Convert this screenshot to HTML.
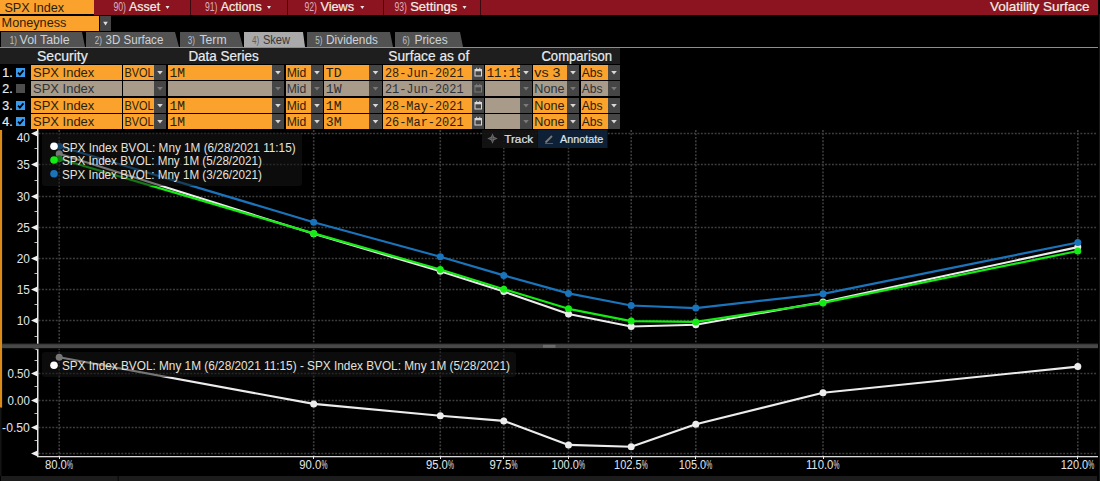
<!DOCTYPE html>
<html><head><meta charset="utf-8">
<style>
html,body{margin:0;padding:0;background:#000;width:1100px;height:481px;overflow:hidden;position:relative;font-family:"Liberation Sans",sans-serif;}
svg{position:absolute;left:0;top:0;}
text{font-family:"Liberation Sans",sans-serif;white-space:pre;}
.m{font-family:"Liberation Mono",monospace;}
</style></head><body>
<svg width="1100" height="481" viewBox="0 0 1100 481">
<rect x="0" y="0" width="94" height="14" fill="#fba22c" />
<text x="4.4" y="11.5" font-size="12.5" fill="#2a1e10" textLength="59.7" lengthAdjust="spacingAndGlyphs">SPX Index</text>
<rect x="94" y="0" width="1004" height="15" fill="#8b1420" />
<rect x="190" y="0" width="1" height="15" fill="#3a0a0e" />
<rect x="287" y="0" width="1" height="15" fill="#3a0a0e" />
<rect x="383" y="0" width="1" height="15" fill="#3a0a0e" />
<rect x="480" y="0" width="1" height="15" fill="#3a0a0e" />
<text x="113.4" y="10.5" font-size="12" fill="#dcb0bc" textLength="12.6" lengthAdjust="spacingAndGlyphs">90)</text>
<text x="129.1" y="10.7" font-size="12.8" fill="#f4efe6" textLength="31.0" lengthAdjust="spacingAndGlyphs" stroke="#f4efe6" stroke-width="0.2">Asset</text>
<polygon points="165.5,6 169.5,6 167.5,9" fill="#e6e6e6"/>
<text x="204.9" y="10.5" font-size="12" fill="#dcb0bc" textLength="12.5" lengthAdjust="spacingAndGlyphs">91)</text>
<text x="220.7" y="10.7" font-size="12.8" fill="#f4efe6" textLength="41.0" lengthAdjust="spacingAndGlyphs" stroke="#f4efe6" stroke-width="0.2">Actions</text>
<polygon points="267,6 271,6 269,9" fill="#e6e6e6"/>
<text x="304.4" y="10.5" font-size="12" fill="#dcb0bc" textLength="12.5" lengthAdjust="spacingAndGlyphs">92)</text>
<text x="320.4" y="10.7" font-size="12.8" fill="#f4efe6" textLength="33.7" lengthAdjust="spacingAndGlyphs" stroke="#f4efe6" stroke-width="0.2">Views</text>
<polygon points="360.3,6 364.3,6 362.3,9" fill="#e6e6e6"/>
<text x="394.4" y="10.5" font-size="12" fill="#dcb0bc" textLength="12.5" lengthAdjust="spacingAndGlyphs">93)</text>
<text x="410.2" y="10.7" font-size="12.8" fill="#f4efe6" textLength="47.0" lengthAdjust="spacingAndGlyphs" stroke="#f4efe6" stroke-width="0.2">Settings</text>
<polygon points="462.5,6 466.5,6 464.5,9" fill="#e6e6e6"/>
<text x="989.9" y="10.7" font-size="12.8" fill="#f4efe6" textLength="99.7" lengthAdjust="spacingAndGlyphs" stroke="#f4efe6" stroke-width="0.2">Volatility Surface</text>
<rect x="0" y="16" width="99" height="15" fill="#fba22c" />
<text x="1.6" y="27.3" font-size="12.5" fill="#2a1e10" textLength="64.8" lengthAdjust="spacingAndGlyphs">Moneyness</text>
<rect x="100" y="16" width="11" height="15" fill="#454545" />
<polygon points="103.2,21.8 107.8,21.8 105.5,25.6" fill="#dddddd"/>
<polygon points="1,32 82,32 85,47 1,47" fill="#525252"/>
<polygon points="86,32 175,32 179,47 86,47" fill="#525252"/>
<polygon points="180,32 239,32 243,47 180,47" fill="#525252"/>
<polygon points="244,32 303,32 305,47 244,47" fill="#aaaaaa"/>
<polygon points="307,32 390,32 393,47 307,47" fill="#525252"/>
<polygon points="395,32 460,32 463,47 395,47" fill="#525252"/>
<rect x="0" y="47" width="1098" height="1" fill="#8e8e8e"/>
<text x="9.8" y="43.8" font-size="11.5" fill="#b8c0c8" textLength="7.2" lengthAdjust="spacingAndGlyphs">1)</text>
<text x="19.6" y="43.8" font-size="12" fill="#cdd2d8" textLength="50.0" lengthAdjust="spacingAndGlyphs">Vol Table</text>
<text x="94.7" y="43.8" font-size="11.5" fill="#b8c0c8" textLength="7.2" lengthAdjust="spacingAndGlyphs">2)</text>
<text x="105.6" y="43.8" font-size="12" fill="#cdd2d8" textLength="57.7" lengthAdjust="spacingAndGlyphs">3D Surface</text>
<text x="187.8" y="43.8" font-size="11.5" fill="#b8c0c8" textLength="7.2" lengthAdjust="spacingAndGlyphs">3)</text>
<text x="199.4" y="43.8" font-size="12" fill="#cdd2d8" textLength="27.2" lengthAdjust="spacingAndGlyphs">Term</text>
<text x="252.0" y="43.8" font-size="11.5" fill="#606060" textLength="7.2" lengthAdjust="spacingAndGlyphs">4)</text>
<text x="262.9" y="43.8" font-size="12" fill="#383838" textLength="27.1" lengthAdjust="spacingAndGlyphs">Skew</text>
<text x="315.2" y="43.8" font-size="11.5" fill="#b8c0c8" textLength="7.2" lengthAdjust="spacingAndGlyphs">5)</text>
<text x="326.1" y="43.8" font-size="12" fill="#cdd2d8" textLength="51.8" lengthAdjust="spacingAndGlyphs">Dividends</text>
<text x="402.6" y="43.8" font-size="11.5" fill="#b8c0c8" textLength="7.2" lengthAdjust="spacingAndGlyphs">6)</text>
<text x="414.4" y="43.8" font-size="12" fill="#cdd2d8" textLength="33.3" lengthAdjust="spacingAndGlyphs">Prices</text>
<rect x="0" y="48" width="620" height="16" fill="#1e1e1e" />
<text x="37.0" y="60.8" font-size="14.5" fill="#e8ecf0" textLength="50.7" lengthAdjust="spacingAndGlyphs" stroke="#e8ecf0" stroke-width="0.2">Security</text>
<text x="188.4" y="60.8" font-size="14.5" fill="#e8ecf0" textLength="70.4" lengthAdjust="spacingAndGlyphs" stroke="#e8ecf0" stroke-width="0.2">Data Series</text>
<text x="388.3" y="60.8" font-size="14.5" fill="#e8ecf0" textLength="80.9" lengthAdjust="spacingAndGlyphs" stroke="#e8ecf0" stroke-width="0.2">Surface as of</text>
<text x="541.4" y="60.8" font-size="14.5" fill="#e8ecf0" textLength="70.6" lengthAdjust="spacingAndGlyphs" stroke="#e8ecf0" stroke-width="0.2">Comparison</text>
<defs><clipPath id="ctm"><rect x="485" y="60" width="35" height="80"/></clipPath></defs>
<text x="2.3" y="77.1" font-size="13" fill="#e8ecf0" textLength="10.4" lengthAdjust="spacingAndGlyphs" stroke="#e8ecf0" stroke-width="0.2">1.</text>
<rect x="16" y="68" width="9" height="9" fill="#3a9aee" />
<path d="M18 72.6 L19.9 74.6 L23.4 70.4" stroke="#000" stroke-width="1.7" fill="none"/>
<rect x="31" y="65" width="91" height="15" fill="#fba22c" />
<text x="33.0" y="77.1" font-size="13" fill="#2a1e10" textLength="61.3" lengthAdjust="spacingAndGlyphs">SPX Index</text>
<rect x="123" y="65" width="31" height="15" fill="#fba22c" />
<text x="124.4" y="77.1" font-size="13" fill="#2a1e10" textLength="29.2" lengthAdjust="spacingAndGlyphs">BVOL</text>
<rect x="154" y="65" width="12" height="15" fill="#454545" />
<polygon points="157.2,71 162.8,71 160.0,74.6" fill="#d8d8d8"/>
<rect x="168" y="65" width="104" height="15" fill="#fba22c" />
<text x="169.4" y="77.1" font-size="13.5" fill="#2a1e10" textLength="15.5" lengthAdjust="spacingAndGlyphs" class="m">1M</text>
<rect x="272" y="65" width="12" height="15" fill="#454545" />
<polygon points="275.2,71 280.8,71 278.0,74.6" fill="#d8d8d8"/>
<rect x="286" y="65" width="25" height="15" fill="#fba22c" />
<text x="286.7" y="77.1" font-size="12.5" fill="#2a1e10" textLength="19.6" lengthAdjust="spacingAndGlyphs">Mid</text>
<rect x="311" y="65" width="12" height="15" fill="#454545" />
<polygon points="314.2,71 319.8,71 317.0,74.6" fill="#d8d8d8"/>
<rect x="324" y="65" width="45" height="15" fill="#fba22c" />
<text x="325.8" y="77.1" font-size="13.5" fill="#2a1e10" textLength="15.8" lengthAdjust="spacingAndGlyphs" class="m">TD</text>
<rect x="369" y="65" width="13" height="15" fill="#454545" />
<polygon points="372.7,71 378.3,71 375.5,74.6" fill="#d8d8d8"/>
<rect x="383" y="65" width="89" height="15" fill="#fba22c" />
<text x="384.9" y="77.1" font-size="13.5" fill="#2a1e10" textLength="78.7" lengthAdjust="spacingAndGlyphs" class="m">28-Jun-2021</text>
<rect x="472" y="65" width="12" height="15" fill="#454545" />
<rect x="475" y="69.5" width="6.5" height="6.5" fill="none" stroke="#d8d8d8" stroke-width="1"/><rect x="475" y="70" width="6.5" height="1.3" fill="#d8d8d8"/><rect x="476.2" y="67.8" width="1" height="2" fill="#d8d8d8"/><rect x="479.3" y="67.8" width="1" height="2" fill="#d8d8d8"/>
<rect x="485" y="65" width="35" height="15" fill="#fba22c" />
<g clip-path="url(#ctm)">
<text x="486.7" y="77.1" font-size="13.5" fill="#2a1e10" textLength="36.7" lengthAdjust="spacingAndGlyphs" class="m">11:15</text>
</g>
<rect x="520" y="65" width="12" height="15" fill="#454545" />
<polygon points="523.2,71 528.8,71 526.0,74.6" fill="#d8d8d8"/>
<rect x="533" y="65" width="34" height="15" fill="#fba22c" />
<text x="534.3" y="77.1" font-size="13" fill="#2a1e10" textLength="26.1" lengthAdjust="spacingAndGlyphs">vs 3</text>
<rect x="567" y="65" width="12" height="15" fill="#454545" />
<polygon points="570.2,71 575.8,71 573.0,74.6" fill="#d8d8d8"/>
<rect x="581" y="65" width="27" height="15" fill="#fba22c" />
<text x="581.7" y="77.1" font-size="12.5" fill="#2a1e10" textLength="20.8" lengthAdjust="spacingAndGlyphs">Abs</text>
<rect x="608" y="65" width="12" height="15" fill="#454545" />
<polygon points="611.2,71 616.8,71 614.0,74.6" fill="#d8d8d8"/>
<text x="2.3" y="93.1" font-size="13" fill="#e8ecf0" textLength="10.4" lengthAdjust="spacingAndGlyphs" stroke="#e8ecf0" stroke-width="0.2">2.</text>
<rect x="16" y="84" width="9" height="9" fill="#4d4d4d" />
<rect x="31" y="81" width="91" height="15" fill="#a89b89" />
<text x="33.0" y="93.1" font-size="13" fill="#30323a" textLength="61.3" lengthAdjust="spacingAndGlyphs">SPX Index</text>
<rect x="123" y="81" width="31" height="15" fill="#a89b89" />
<rect x="154" y="81" width="12" height="15" fill="#454545" />
<polygon points="157.2,87 162.8,87 160.0,90.6" fill="#7a7a7a"/>
<rect x="168" y="81" width="104" height="15" fill="#a89b89" />
<rect x="272" y="81" width="12" height="15" fill="#454545" />
<polygon points="275.2,87 280.8,87 278.0,90.6" fill="#7a7a7a"/>
<rect x="286" y="81" width="25" height="15" fill="#a89b89" />
<text x="286.7" y="93.1" font-size="12.5" fill="#30323a" textLength="19.6" lengthAdjust="spacingAndGlyphs">Mid</text>
<rect x="311" y="81" width="12" height="15" fill="#454545" />
<polygon points="314.2,87 319.8,87 317.0,90.6" fill="#7a7a7a"/>
<rect x="324" y="81" width="45" height="15" fill="#a89b89" />
<text x="325.8" y="93.1" font-size="13.5" fill="#30323a" textLength="15.8" lengthAdjust="spacingAndGlyphs" class="m">1W</text>
<rect x="369" y="81" width="13" height="15" fill="#454545" />
<polygon points="372.7,87 378.3,87 375.5,90.6" fill="#7a7a7a"/>
<rect x="383" y="81" width="89" height="15" fill="#a89b89" />
<text x="384.9" y="93.1" font-size="13.5" fill="#30323a" textLength="78.7" lengthAdjust="spacingAndGlyphs" class="m">21-Jun-2021</text>
<rect x="472" y="81" width="12" height="15" fill="#454545" />
<rect x="475" y="85.5" width="6.5" height="6.5" fill="none" stroke="#7a7a7a" stroke-width="1"/><rect x="475" y="86" width="6.5" height="1.3" fill="#7a7a7a"/><rect x="476.2" y="83.8" width="1" height="2" fill="#7a7a7a"/><rect x="479.3" y="83.8" width="1" height="2" fill="#7a7a7a"/>
<rect x="485" y="81" width="35" height="15" fill="#a89b89" />
<rect x="520" y="81" width="12" height="15" fill="#454545" />
<polygon points="523.2,87 528.8,87 526.0,90.6" fill="#7a7a7a"/>
<rect x="533" y="81" width="34" height="15" fill="#a89b89" />
<text x="534.3" y="93.1" font-size="12.5" fill="#30323a" textLength="30.1" lengthAdjust="spacingAndGlyphs">None</text>
<rect x="567" y="81" width="12" height="15" fill="#454545" />
<polygon points="570.2,87 575.8,87 573.0,90.6" fill="#7a7a7a"/>
<rect x="581" y="81" width="27" height="15" fill="#a89b89" />
<text x="581.7" y="93.1" font-size="12.5" fill="#30323a" textLength="20.8" lengthAdjust="spacingAndGlyphs">Abs</text>
<rect x="608" y="81" width="12" height="15" fill="#454545" />
<polygon points="611.2,87 616.8,87 614.0,90.6" fill="#7a7a7a"/>
<text x="2.3" y="110.1" font-size="13" fill="#e8ecf0" textLength="10.4" lengthAdjust="spacingAndGlyphs" stroke="#e8ecf0" stroke-width="0.2">3.</text>
<rect x="16" y="101" width="9" height="9" fill="#3a9aee" />
<path d="M18 105.6 L19.9 107.6 L23.4 103.4" stroke="#000" stroke-width="1.7" fill="none"/>
<rect x="31" y="98" width="91" height="15" fill="#fba22c" />
<text x="33.0" y="110.1" font-size="13" fill="#2a1e10" textLength="61.3" lengthAdjust="spacingAndGlyphs">SPX Index</text>
<rect x="123" y="98" width="31" height="15" fill="#fba22c" />
<text x="124.4" y="110.1" font-size="13" fill="#2a1e10" textLength="29.2" lengthAdjust="spacingAndGlyphs">BVOL</text>
<rect x="154" y="98" width="12" height="15" fill="#454545" />
<polygon points="157.2,104 162.8,104 160.0,107.6" fill="#d8d8d8"/>
<rect x="168" y="98" width="104" height="15" fill="#fba22c" />
<text x="169.4" y="110.1" font-size="13.5" fill="#2a1e10" textLength="15.5" lengthAdjust="spacingAndGlyphs" class="m">1M</text>
<rect x="272" y="98" width="12" height="15" fill="#454545" />
<polygon points="275.2,104 280.8,104 278.0,107.6" fill="#d8d8d8"/>
<rect x="286" y="98" width="25" height="15" fill="#fba22c" />
<text x="286.7" y="110.1" font-size="12.5" fill="#2a1e10" textLength="19.6" lengthAdjust="spacingAndGlyphs">Mid</text>
<rect x="311" y="98" width="12" height="15" fill="#454545" />
<polygon points="314.2,104 319.8,104 317.0,107.6" fill="#d8d8d8"/>
<rect x="324" y="98" width="45" height="15" fill="#fba22c" />
<text x="325.8" y="110.1" font-size="13.5" fill="#2a1e10" textLength="15.8" lengthAdjust="spacingAndGlyphs" class="m">1M</text>
<rect x="369" y="98" width="13" height="15" fill="#454545" />
<polygon points="372.7,104 378.3,104 375.5,107.6" fill="#d8d8d8"/>
<rect x="383" y="98" width="89" height="15" fill="#fba22c" />
<text x="384.9" y="110.1" font-size="13.5" fill="#2a1e10" textLength="78.7" lengthAdjust="spacingAndGlyphs" class="m">28-May-2021</text>
<rect x="472" y="98" width="12" height="15" fill="#454545" />
<rect x="475" y="102.5" width="6.5" height="6.5" fill="none" stroke="#d8d8d8" stroke-width="1"/><rect x="475" y="103" width="6.5" height="1.3" fill="#d8d8d8"/><rect x="476.2" y="100.8" width="1" height="2" fill="#d8d8d8"/><rect x="479.3" y="100.8" width="1" height="2" fill="#d8d8d8"/>
<rect x="485" y="98" width="35" height="15" fill="#a89b89" />
<rect x="520" y="98" width="12" height="15" fill="#454545" />
<polygon points="523.2,104 528.8,104 526.0,107.6" fill="#7a7a7a"/>
<rect x="533" y="98" width="34" height="15" fill="#fba22c" />
<text x="534.3" y="110.1" font-size="12.5" fill="#2a1e10" textLength="30.1" lengthAdjust="spacingAndGlyphs">None</text>
<rect x="567" y="98" width="12" height="15" fill="#454545" />
<polygon points="570.2,104 575.8,104 573.0,107.6" fill="#d8d8d8"/>
<rect x="581" y="98" width="27" height="15" fill="#fba22c" />
<text x="581.7" y="110.1" font-size="12.5" fill="#2a1e10" textLength="20.8" lengthAdjust="spacingAndGlyphs">Abs</text>
<rect x="608" y="98" width="12" height="15" fill="#454545" />
<polygon points="611.2,104 616.8,104 614.0,107.6" fill="#d8d8d8"/>
<text x="2.3" y="126.1" font-size="13" fill="#e8ecf0" textLength="10.4" lengthAdjust="spacingAndGlyphs" stroke="#e8ecf0" stroke-width="0.2">4.</text>
<rect x="16" y="117" width="9" height="9" fill="#3a9aee" />
<path d="M18 121.6 L19.9 123.6 L23.4 119.4" stroke="#000" stroke-width="1.7" fill="none"/>
<rect x="31" y="114" width="91" height="15" fill="#fba22c" />
<text x="33.0" y="126.1" font-size="13" fill="#2a1e10" textLength="61.3" lengthAdjust="spacingAndGlyphs">SPX Index</text>
<rect x="123" y="114" width="31" height="15" fill="#fba22c" />
<text x="124.4" y="126.1" font-size="13" fill="#2a1e10" textLength="29.2" lengthAdjust="spacingAndGlyphs">BVOL</text>
<rect x="154" y="114" width="12" height="15" fill="#454545" />
<polygon points="157.2,120 162.8,120 160.0,123.6" fill="#d8d8d8"/>
<rect x="168" y="114" width="104" height="15" fill="#fba22c" />
<text x="169.4" y="126.1" font-size="13.5" fill="#2a1e10" textLength="15.5" lengthAdjust="spacingAndGlyphs" class="m">1M</text>
<rect x="272" y="114" width="12" height="15" fill="#454545" />
<polygon points="275.2,120 280.8,120 278.0,123.6" fill="#d8d8d8"/>
<rect x="286" y="114" width="25" height="15" fill="#fba22c" />
<text x="286.7" y="126.1" font-size="12.5" fill="#2a1e10" textLength="19.6" lengthAdjust="spacingAndGlyphs">Mid</text>
<rect x="311" y="114" width="12" height="15" fill="#454545" />
<polygon points="314.2,120 319.8,120 317.0,123.6" fill="#d8d8d8"/>
<rect x="324" y="114" width="45" height="15" fill="#fba22c" />
<text x="325.8" y="126.1" font-size="13.5" fill="#2a1e10" textLength="15.8" lengthAdjust="spacingAndGlyphs" class="m">3M</text>
<rect x="369" y="114" width="13" height="15" fill="#454545" />
<polygon points="372.7,120 378.3,120 375.5,123.6" fill="#d8d8d8"/>
<rect x="383" y="114" width="89" height="15" fill="#fba22c" />
<text x="384.9" y="126.1" font-size="13.5" fill="#2a1e10" textLength="78.7" lengthAdjust="spacingAndGlyphs" class="m">26-Mar-2021</text>
<rect x="472" y="114" width="12" height="15" fill="#454545" />
<rect x="475" y="118.5" width="6.5" height="6.5" fill="none" stroke="#d8d8d8" stroke-width="1"/><rect x="475" y="119" width="6.5" height="1.3" fill="#d8d8d8"/><rect x="476.2" y="116.8" width="1" height="2" fill="#d8d8d8"/><rect x="479.3" y="116.8" width="1" height="2" fill="#d8d8d8"/>
<rect x="485" y="114" width="35" height="15" fill="#a89b89" />
<rect x="520" y="114" width="12" height="15" fill="#454545" />
<polygon points="523.2,120 528.8,120 526.0,123.6" fill="#7a7a7a"/>
<rect x="533" y="114" width="34" height="15" fill="#fba22c" />
<text x="534.3" y="126.1" font-size="12.5" fill="#2a1e10" textLength="30.1" lengthAdjust="spacingAndGlyphs">None</text>
<rect x="567" y="114" width="12" height="15" fill="#454545" />
<polygon points="570.2,120 575.8,120 573.0,123.6" fill="#d8d8d8"/>
<rect x="581" y="114" width="27" height="15" fill="#fba22c" />
<text x="581.7" y="126.1" font-size="12.5" fill="#2a1e10" textLength="20.8" lengthAdjust="spacingAndGlyphs">Abs</text>
<rect x="608" y="114" width="12" height="15" fill="#454545" />
<polygon points="611.2,120 616.8,120 614.0,123.6" fill="#d8d8d8"/>
<rect x="0" y="130" width="2.1" height="277.7" fill="#d98c1a" />
<rect x="0" y="407.7" width="1.5" height="68.5" fill="#141414" />
<line x1="38.5" y1="133.5" x2="1097" y2="133.5" stroke="#3e3e3e" stroke-width="1.6" stroke-dasharray="1.9 1.55"/>
<line x1="38.5" y1="164.5" x2="1097" y2="164.5" stroke="#3e3e3e" stroke-width="1.6" stroke-dasharray="1.9 1.55"/>
<line x1="38.5" y1="196.5" x2="1097" y2="196.5" stroke="#3e3e3e" stroke-width="1.6" stroke-dasharray="1.9 1.55"/>
<line x1="38.5" y1="227.5" x2="1097" y2="227.5" stroke="#3e3e3e" stroke-width="1.6" stroke-dasharray="1.9 1.55"/>
<line x1="38.5" y1="258.5" x2="1097" y2="258.5" stroke="#3e3e3e" stroke-width="1.6" stroke-dasharray="1.9 1.55"/>
<line x1="38.5" y1="289.5" x2="1097" y2="289.5" stroke="#3e3e3e" stroke-width="1.6" stroke-dasharray="1.9 1.55"/>
<line x1="38.5" y1="320.5" x2="1097" y2="320.5" stroke="#3e3e3e" stroke-width="1.6" stroke-dasharray="1.9 1.55"/>
<line x1="59.2" y1="130" x2="59.2" y2="344" stroke="#3e3e3e" stroke-width="1.6" stroke-dasharray="1.9 1.55"/>
<line x1="59.2" y1="348" x2="59.2" y2="456" stroke="#3e3e3e" stroke-width="1.6" stroke-dasharray="1.9 1.55"/>
<line x1="313.7" y1="130" x2="313.7" y2="344" stroke="#3e3e3e" stroke-width="1.6" stroke-dasharray="1.9 1.55"/>
<line x1="313.7" y1="348" x2="313.7" y2="456" stroke="#3e3e3e" stroke-width="1.6" stroke-dasharray="1.9 1.55"/>
<line x1="440.3" y1="130" x2="440.3" y2="344" stroke="#3e3e3e" stroke-width="1.6" stroke-dasharray="1.9 1.55"/>
<line x1="440.3" y1="348" x2="440.3" y2="456" stroke="#3e3e3e" stroke-width="1.6" stroke-dasharray="1.9 1.55"/>
<line x1="503.8" y1="130" x2="503.8" y2="344" stroke="#3e3e3e" stroke-width="1.6" stroke-dasharray="1.9 1.55"/>
<line x1="503.8" y1="348" x2="503.8" y2="456" stroke="#3e3e3e" stroke-width="1.6" stroke-dasharray="1.9 1.55"/>
<line x1="568.5" y1="130" x2="568.5" y2="344" stroke="#3e3e3e" stroke-width="1.6" stroke-dasharray="1.9 1.55"/>
<line x1="568.5" y1="348" x2="568.5" y2="456" stroke="#3e3e3e" stroke-width="1.6" stroke-dasharray="1.9 1.55"/>
<line x1="631.2" y1="130" x2="631.2" y2="344" stroke="#3e3e3e" stroke-width="1.6" stroke-dasharray="1.9 1.55"/>
<line x1="631.2" y1="348" x2="631.2" y2="456" stroke="#3e3e3e" stroke-width="1.6" stroke-dasharray="1.9 1.55"/>
<line x1="695.8" y1="130" x2="695.8" y2="344" stroke="#3e3e3e" stroke-width="1.6" stroke-dasharray="1.9 1.55"/>
<line x1="695.8" y1="348" x2="695.8" y2="456" stroke="#3e3e3e" stroke-width="1.6" stroke-dasharray="1.9 1.55"/>
<line x1="823.0" y1="130" x2="823.0" y2="344" stroke="#3e3e3e" stroke-width="1.6" stroke-dasharray="1.9 1.55"/>
<line x1="823.0" y1="348" x2="823.0" y2="456" stroke="#3e3e3e" stroke-width="1.6" stroke-dasharray="1.9 1.55"/>
<line x1="1077.8" y1="130" x2="1077.8" y2="344" stroke="#3e3e3e" stroke-width="1.6" stroke-dasharray="1.9 1.55"/>
<line x1="1077.8" y1="348" x2="1077.8" y2="456" stroke="#3e3e3e" stroke-width="1.6" stroke-dasharray="1.9 1.55"/>
<line x1="38.5" y1="373.5" x2="1097" y2="373.5" stroke="#3e3e3e" stroke-width="1.6" stroke-dasharray="1.9 1.55"/>
<line x1="38.5" y1="400.5" x2="1097" y2="400.5" stroke="#3e3e3e" stroke-width="1.6" stroke-dasharray="1.9 1.55"/>
<line x1="38.5" y1="427.5" x2="1097" y2="427.5" stroke="#3e3e3e" stroke-width="1.6" stroke-dasharray="1.9 1.55"/>
<line x1="38.5" y1="453.5" x2="1097" y2="453.5" stroke="#3e3e3e" stroke-width="1.6" stroke-dasharray="1.9 1.55"/>
<rect x="37" y="129" width="1.5" height="215" fill="#e6e6e6" />
<rect x="37" y="348" width="1.5" height="109" fill="#e6e6e6" />
<rect x="37" y="456" width="1061" height="1.3" fill="#d8d8d8" />
<polygon points="31,133.5 37.5,130.5 37.5,136.5" fill="#f0f0f0"/>
<text x="16.7" y="141.8" font-size="12.3" fill="#e0e4ea" textLength="13.2" lengthAdjust="spacingAndGlyphs">40</text>
<polygon points="31,164.5 37.5,161.5 37.5,167.5" fill="#f0f0f0"/>
<text x="16.7" y="169.4" font-size="12.3" fill="#e0e4ea" textLength="13.2" lengthAdjust="spacingAndGlyphs">35</text>
<polygon points="31,196.5 37.5,193.5 37.5,199.5" fill="#f0f0f0"/>
<text x="16.7" y="201.4" font-size="12.3" fill="#e0e4ea" textLength="13.2" lengthAdjust="spacingAndGlyphs">30</text>
<polygon points="31,227.5 37.5,224.5 37.5,230.5" fill="#f0f0f0"/>
<text x="16.7" y="232.4" font-size="12.3" fill="#e0e4ea" textLength="13.2" lengthAdjust="spacingAndGlyphs">25</text>
<polygon points="31,258.5 37.5,255.5 37.5,261.5" fill="#f0f0f0"/>
<text x="16.7" y="263.4" font-size="12.3" fill="#e0e4ea" textLength="13.2" lengthAdjust="spacingAndGlyphs">20</text>
<polygon points="31,289.5 37.5,286.5 37.5,292.5" fill="#f0f0f0"/>
<text x="16.7" y="294.4" font-size="12.3" fill="#e0e4ea" textLength="13.2" lengthAdjust="spacingAndGlyphs">15</text>
<polygon points="31,320.5 37.5,317.5 37.5,323.5" fill="#f0f0f0"/>
<text x="16.7" y="325.4" font-size="12.3" fill="#e0e4ea" textLength="13.2" lengthAdjust="spacingAndGlyphs">10</text>
<rect x="34.5" y="148" width="2.5" height="1" fill="#bdbdbd" />
<rect x="34.5" y="180" width="2.5" height="1" fill="#bdbdbd" />
<rect x="34.5" y="211" width="2.5" height="1" fill="#bdbdbd" />
<rect x="34.5" y="242" width="2.5" height="1" fill="#bdbdbd" />
<rect x="34.5" y="273" width="2.5" height="1" fill="#bdbdbd" />
<rect x="34.5" y="304" width="2.5" height="1" fill="#bdbdbd" />
<rect x="34.5" y="336" width="2.5" height="1" fill="#bdbdbd" />
<polygon points="31,347.5 37.5,344.5 37.5,350.5" fill="#f0f0f0"/>
<polygon points="31,373.5 37.5,370.5 37.5,376.5" fill="#f0f0f0"/>
<text x="7.5" y="378.4" font-size="12.3" fill="#e0e4ea" textLength="22.4" lengthAdjust="spacingAndGlyphs">0.50</text>
<polygon points="31,400.5 37.5,397.5 37.5,403.5" fill="#f0f0f0"/>
<text x="7.5" y="405.4" font-size="12.3" fill="#e0e4ea" textLength="22.4" lengthAdjust="spacingAndGlyphs">0.00</text>
<polygon points="31,427.5 37.5,424.5 37.5,430.5" fill="#f0f0f0"/>
<text x="2.1" y="432.4" font-size="12.3" fill="#e0e4ea" textLength="27.8" lengthAdjust="spacingAndGlyphs">-0.50</text>
<polygon points="31,453.5 37.5,450.5 37.5,456.5" fill="#f0f0f0"/>
<rect x="34.5" y="360" width="2.5" height="1" fill="#bdbdbd" />
<rect x="34.5" y="386" width="2.5" height="1" fill="#bdbdbd" />
<rect x="34.5" y="413" width="2.5" height="1" fill="#bdbdbd" />
<rect x="34.5" y="440" width="2.5" height="1" fill="#bdbdbd" />
<rect x="59" y="456" width="1" height="3" fill="#e6e6e6" />
<text x="44.9" y="468.9" font-size="12.3" fill="#e0e4ea" textLength="22.0" lengthAdjust="spacingAndGlyphs">80.0</text>
<text x="67.0" y="469.2" font-size="13" fill="#e0e4ea" textLength="6" lengthAdjust="spacingAndGlyphs">%</text>
<rect x="313" y="456" width="1" height="3" fill="#e6e6e6" />
<text x="299.3" y="468.9" font-size="12.3" fill="#e0e4ea" textLength="22.0" lengthAdjust="spacingAndGlyphs">90.0</text>
<text x="321.4" y="469.2" font-size="13" fill="#e0e4ea" textLength="6" lengthAdjust="spacingAndGlyphs">%</text>
<rect x="440" y="456" width="1" height="3" fill="#e6e6e6" />
<text x="425.9" y="468.9" font-size="12.3" fill="#e0e4ea" textLength="22.0" lengthAdjust="spacingAndGlyphs">95.0</text>
<text x="448.1" y="469.2" font-size="13" fill="#e0e4ea" textLength="6" lengthAdjust="spacingAndGlyphs">%</text>
<rect x="503" y="456" width="1" height="3" fill="#e6e6e6" />
<text x="489.4" y="468.9" font-size="12.3" fill="#e0e4ea" textLength="22.0" lengthAdjust="spacingAndGlyphs">97.5</text>
<text x="511.6" y="469.2" font-size="13" fill="#e0e4ea" textLength="6" lengthAdjust="spacingAndGlyphs">%</text>
<rect x="568" y="456" width="1" height="3" fill="#e6e6e6" />
<text x="551.4" y="468.9" font-size="12.3" fill="#e0e4ea" textLength="27.5" lengthAdjust="spacingAndGlyphs">100.0</text>
<text x="579.0" y="469.2" font-size="13" fill="#e0e4ea" textLength="6" lengthAdjust="spacingAndGlyphs">%</text>
<rect x="631" y="456" width="1" height="3" fill="#e6e6e6" />
<text x="614.1" y="468.9" font-size="12.3" fill="#e0e4ea" textLength="27.5" lengthAdjust="spacingAndGlyphs">102.5</text>
<text x="641.7" y="469.2" font-size="13" fill="#e0e4ea" textLength="6" lengthAdjust="spacingAndGlyphs">%</text>
<rect x="695" y="456" width="1" height="3" fill="#e6e6e6" />
<text x="678.7" y="468.9" font-size="12.3" fill="#e0e4ea" textLength="27.5" lengthAdjust="spacingAndGlyphs">105.0</text>
<text x="706.3" y="469.2" font-size="13" fill="#e0e4ea" textLength="6" lengthAdjust="spacingAndGlyphs">%</text>
<rect x="823" y="456" width="1" height="3" fill="#e6e6e6" />
<text x="805.9" y="468.9" font-size="12.3" fill="#e0e4ea" textLength="27.5" lengthAdjust="spacingAndGlyphs">110.0</text>
<text x="833.5" y="469.2" font-size="13" fill="#e0e4ea" textLength="6" lengthAdjust="spacingAndGlyphs">%</text>
<rect x="1077" y="456" width="1" height="3" fill="#e6e6e6" />
<text x="1060.7" y="468.9" font-size="12.3" fill="#e0e4ea" textLength="27.5" lengthAdjust="spacingAndGlyphs">120.0</text>
<text x="1088.3" y="469.2" font-size="13" fill="#e0e4ea" textLength="6" lengthAdjust="spacingAndGlyphs">%</text>
<rect x="2" y="343.8" width="1096" height="4.4" fill="#474947" />
<rect x="2" y="343.8" width="1096" height="1.0" fill="#393939" />
<rect x="2" y="348.2" width="1096" height="1.0" fill="#0e0e0e" />
<rect x="543" y="344.8" width="12.5" height="3" fill="#6c6c6c" />
<polyline points="59.2,153.8 313.7,233.8 440.3,271.3 503.8,291.6 568.5,314.0 631.2,326.5 695.8,324.7 823.0,302.0 1077.8,247.1" fill="none" stroke="#ececec" stroke-width="2.1" stroke-linejoin="round"/>
<circle cx="59.2" cy="153.8" r="3.5" fill="#ececec"/>
<circle cx="313.7" cy="233.8" r="3.5" fill="#ececec"/>
<circle cx="440.3" cy="271.3" r="3.5" fill="#ececec"/>
<circle cx="503.8" cy="291.6" r="3.5" fill="#ececec"/>
<circle cx="568.5" cy="314.0" r="3.5" fill="#ececec"/>
<circle cx="631.2" cy="326.5" r="3.5" fill="#ececec"/>
<circle cx="695.8" cy="324.7" r="3.5" fill="#ececec"/>
<circle cx="823.0" cy="302.0" r="3.5" fill="#ececec"/>
<circle cx="1077.8" cy="247.1" r="3.5" fill="#ececec"/>
<polyline points="59.2,158.8 313.7,233.4 440.3,269.5 503.8,289.2 568.5,308.8 631.2,321.1 695.8,321.9 823.0,302.9 1077.8,251.0" fill="none" stroke="#14ec14" stroke-width="2.2" stroke-linejoin="round"/>
<circle cx="59.2" cy="158.8" r="3.5" fill="#14ec14"/>
<circle cx="313.7" cy="233.4" r="3.5" fill="#14ec14"/>
<circle cx="440.3" cy="269.5" r="3.5" fill="#14ec14"/>
<circle cx="503.8" cy="289.2" r="3.5" fill="#14ec14"/>
<circle cx="568.5" cy="308.8" r="3.5" fill="#14ec14"/>
<circle cx="631.2" cy="321.1" r="3.5" fill="#14ec14"/>
<circle cx="695.8" cy="321.9" r="3.5" fill="#14ec14"/>
<circle cx="823.0" cy="302.9" r="3.5" fill="#14ec14"/>
<circle cx="1077.8" cy="251.0" r="3.5" fill="#14ec14"/>
<polyline points="59.2,146.3 313.7,222.2 440.3,256.7 503.8,275.4 568.5,293.4 631.2,305.5 695.8,308.1 823.0,293.8 1077.8,242.5" fill="none" stroke="#1a74bb" stroke-width="2.2" stroke-linejoin="round"/>
<circle cx="59.2" cy="146.3" r="3.5" fill="#1a74bb"/>
<circle cx="313.7" cy="222.2" r="3.5" fill="#1a74bb"/>
<circle cx="440.3" cy="256.7" r="3.5" fill="#1a74bb"/>
<circle cx="503.8" cy="275.4" r="3.5" fill="#1a74bb"/>
<circle cx="568.5" cy="293.4" r="3.5" fill="#1a74bb"/>
<circle cx="631.2" cy="305.5" r="3.5" fill="#1a74bb"/>
<circle cx="695.8" cy="308.1" r="3.5" fill="#1a74bb"/>
<circle cx="823.0" cy="293.8" r="3.5" fill="#1a74bb"/>
<circle cx="1077.8" cy="242.5" r="3.5" fill="#1a74bb"/>
<polyline points="59.2,357.2 313.7,403.9 440.3,415.8 503.8,420.9 568.5,444.9 631.2,446.8 695.8,424.3 823.0,392.8 1077.8,366.6" fill="none" stroke="#ececec" stroke-width="2.1" stroke-linejoin="round"/>
<circle cx="59.2" cy="357.2" r="3.5" fill="#ececec"/>
<circle cx="313.7" cy="403.9" r="3.5" fill="#ececec"/>
<circle cx="440.3" cy="415.8" r="3.5" fill="#ececec"/>
<circle cx="503.8" cy="420.9" r="3.5" fill="#ececec"/>
<circle cx="568.5" cy="444.9" r="3.5" fill="#ececec"/>
<circle cx="631.2" cy="446.8" r="3.5" fill="#ececec"/>
<circle cx="695.8" cy="424.3" r="3.5" fill="#ececec"/>
<circle cx="823.0" cy="392.8" r="3.5" fill="#ececec"/>
<circle cx="1077.8" cy="366.6" r="3.5" fill="#ececec"/>
<rect x="42" y="133" width="260" height="53" rx="3" fill="#161616" fill-opacity="0.55"/>
<circle cx="54" cy="146.3" r="3.8" fill="#fff"/>
<circle cx="54" cy="160" r="3.8" fill="#14ec14"/>
<circle cx="54" cy="173.8" r="3.8" fill="#1a74bb"/>
<text x="61.9" y="151.6" font-size="12.3" fill="#e6e2dc" textLength="233.7" lengthAdjust="spacingAndGlyphs">SPX Index BVOL: Mny 1M (6/28/2021 11:15)</text>
<text x="61.9" y="165.0" font-size="12.3" fill="#e6e2dc" textLength="200.0" lengthAdjust="spacingAndGlyphs">SPX Index BVOL: Mny 1M (5/28/2021)</text>
<text x="61.9" y="178.7" font-size="12.3" fill="#e6e2dc" textLength="200.0" lengthAdjust="spacingAndGlyphs">SPX Index BVOL: Mny 1M (3/26/2021)</text>
<rect x="42" y="352" width="474" height="25" rx="3" fill="#161616" fill-opacity="0.55"/>
<circle cx="54" cy="365.3" r="3.8" fill="#fff"/>
<text x="61.9" y="369.7" font-size="12.3" fill="#e6e2dc" textLength="448.0" lengthAdjust="spacingAndGlyphs">SPX Index BVOL: Mny 1M (6/28/2021 11:15) - SPX Index BVOL: Mny 1M (5/28/2021)</text>
<rect x="482" y="130" width="55" height="18" fill="#141414" fill-opacity="0.9"/>
<rect x="537.5" y="130" width="70" height="18" fill="#0e2238" fill-opacity="0.95"/>
<path d="M487.3 138.5 L491 136.8 L492.5 133.3 L494 136.8 L497.7 138.5 L494 140.2 L492.5 143.7 L491 140.2 Z" fill="#6a6a6a"/><path d="M489.5 138.5 H495.5 M492.5 135.5 V141.5" stroke="#454545" stroke-width="0.6"/>
<path d="M545.5 142.5 L552 136" stroke="#7a7a7a" stroke-width="1.8"/><path d="M545 143.5 H553" stroke="#5a5a5a" stroke-width="1"/>
<text x="504.2" y="142.6" font-size="11" fill="#dfe4ea" textLength="29.0" lengthAdjust="spacingAndGlyphs" stroke="#dfe4ea" stroke-width="0.2">Track</text>
<text x="560.1" y="142.6" font-size="11" fill="#dfe4ea" textLength="43.3" lengthAdjust="spacingAndGlyphs" stroke="#dfe4ea" stroke-width="0.2">Annotate</text>
<rect x="1" y="476" width="1096" height="5" fill="#1c1c1c" />
<rect x="117.5" y="476" width="1.5" height="5" fill="#0c0c0c" />
<rect x="1099" y="14" width="1" height="467" fill="#1a1a1a" />
</svg>
</body></html>
